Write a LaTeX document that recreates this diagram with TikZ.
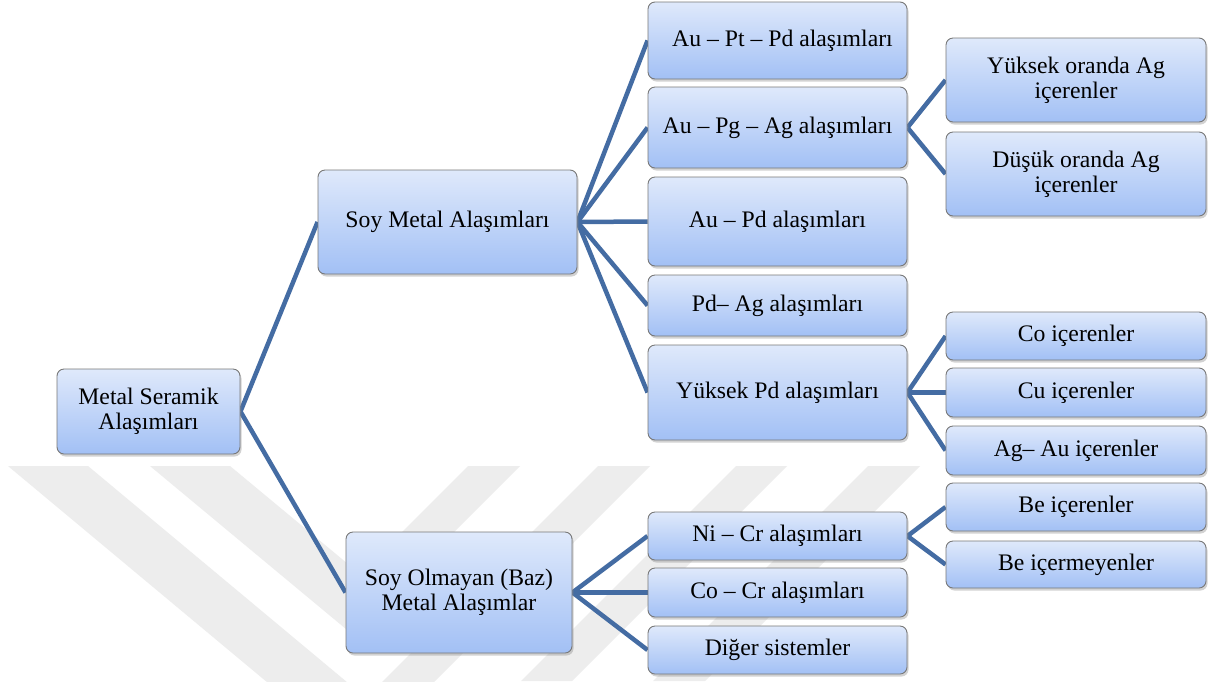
\documentclass[tikz,border=0pt]{standalone}
\usepackage{fontspec}
\setmainfont{Liberation Serif}
\usetikzlibrary{shadows,backgrounds}
\definecolor{linec}{RGB}{68,108,163}
\definecolor{boxtop}{RGB}{223,233,251}
\definecolor{boxbot}{RGB}{162,192,245}
\definecolor{boxdraw}{RGB}{120,120,120}
\definecolor{wm}{RGB}{237,237,237}
\tikzset{
  box/.style={draw=boxdraw, line width=0.9pt, rounded corners=7pt,
    top color=boxtop, bottom color=boxbot, align=center, inner sep=0pt,
    font=\fontsize{23.7}{25}\selectfont,
    drop shadow={shadow xshift=1.5pt, shadow yshift=-2.5pt, opacity=0.35}},
  conn/.style={draw=linec, line width=4.5pt},
  wmark/.style={fill=wm, draw=none},
}
\begin{document}
\begin{tikzpicture}[x=1pt,y=-1pt]
\useasboundingbox (0,0) rectangle (1220,681);

% level 0
\node[box, minimum width=183pt, minimum height=85pt] (root) at (148.5,411.5) {Metal Seramik\\Alaşımları};
% level 1
\node[box, minimum width=259pt, minimum height=104pt] (soy) at (447.5,222) {Soy Metal Alaşımları};
\node[box, minimum width=226pt, minimum height=121pt] (baz) at (459,592.5) {Soy Olmayan (Baz)\\Metal Alaşımlar};
% level 2 (noble)
\node[box, minimum width=259pt, minimum height=77pt] (a1) at (777.5,40.5) {\hspace*{10pt}Au – Pt – Pd alaşımları};
\node[box, minimum width=259pt, minimum height=81pt] (a2) at (777.5,127.5) {Au – Pg – Ag alaşımları};
\node[box, minimum width=259pt, minimum height=89pt] (a3) at (777.5,221.5) {Au – Pd alaşımları};
\node[box, minimum width=259pt, minimum height=61pt] (a4) at (777.5,305.5) {Pd– Ag alaşımları};
\node[box, minimum width=259pt, minimum height=95pt] (a5) at (777.5,392.5) {Yüksek Pd alaşımları};
% level 2 (base)
\node[box, minimum width=259pt, minimum height=48pt] (b1) at (777.5,536) {Ni – Cr alaşımları};
\node[box, minimum width=259pt, minimum height=49pt] (b2) at (777.5,592.5) {Co – Cr alaşımları};
\node[box, minimum width=259pt, minimum height=48pt] (b3) at (777.5,650) {Diğer sistemler};
% level 3
\node[box, minimum width=260pt, minimum height=84pt] (c1) at (1076,80) {Yüksek oranda Ag\\içerenler};
\node[box, minimum width=260pt, minimum height=84pt] (c2) at (1076,174) {Düşük oranda Ag\\içerenler};
\node[box, minimum width=260pt, minimum height=48pt] (d1) at (1076,336) {Co içerenler};
\node[box, minimum width=260pt, minimum height=49pt] (d2) at (1076,392.5) {Cu içerenler};
\node[box, minimum width=260pt, minimum height=49pt] (d3) at (1076,450.5) {Ag– Au içerenler};
\node[box, minimum width=260pt, minimum height=48pt] (e1) at (1076,507) {Be içerenler};
\node[box, minimum width=260pt, minimum height=47pt] (e2) at (1076,564.5) {Be içermeyenler};

\begin{pgfonlayer}{background}
  \fill[white] (0,0) rectangle (1220,681);
  \begin{scope}
    \clip (0,0) rectangle (1220,681);
    \fill[wmark] (8,466) -- (358,758) -- (650,466) -- (598,466) -- (366,698) -- (88,466) -- cycle;
    \fill[wmark] (150,466) -- (352,634) -- (520,466) -- (468,466) -- (360,574) -- (230,466) -- cycle;
    \fill[wmark] (736,466) -- (787,466) -- (572,681) -- (521,681) -- cycle;
    \fill[wmark] (868,466) -- (920,466) -- (705,681) -- (653,681) -- cycle;
  \end{scope}
  \draw[conn] (root.east) -- (soy.west);
  \draw[conn] (root.east) -- (baz.west);
  \foreach \c in {a1,a2,a3,a4,a5} \draw[conn] (soy.east) -- (\c.west);
  \foreach \c in {b1,b2,b3} \draw[conn] (baz.east) -- (\c.west);
  \foreach \c in {c1,c2} \draw[conn] (a2.east) -- (\c.west);
  \foreach \c in {d1,d2,d3} \draw[conn] (a5.east) -- (\c.west);
  \foreach \c in {e1,e2} \draw[conn] (b1.east) -- (\c.west);
\end{pgfonlayer}
\end{tikzpicture}
\end{document}
